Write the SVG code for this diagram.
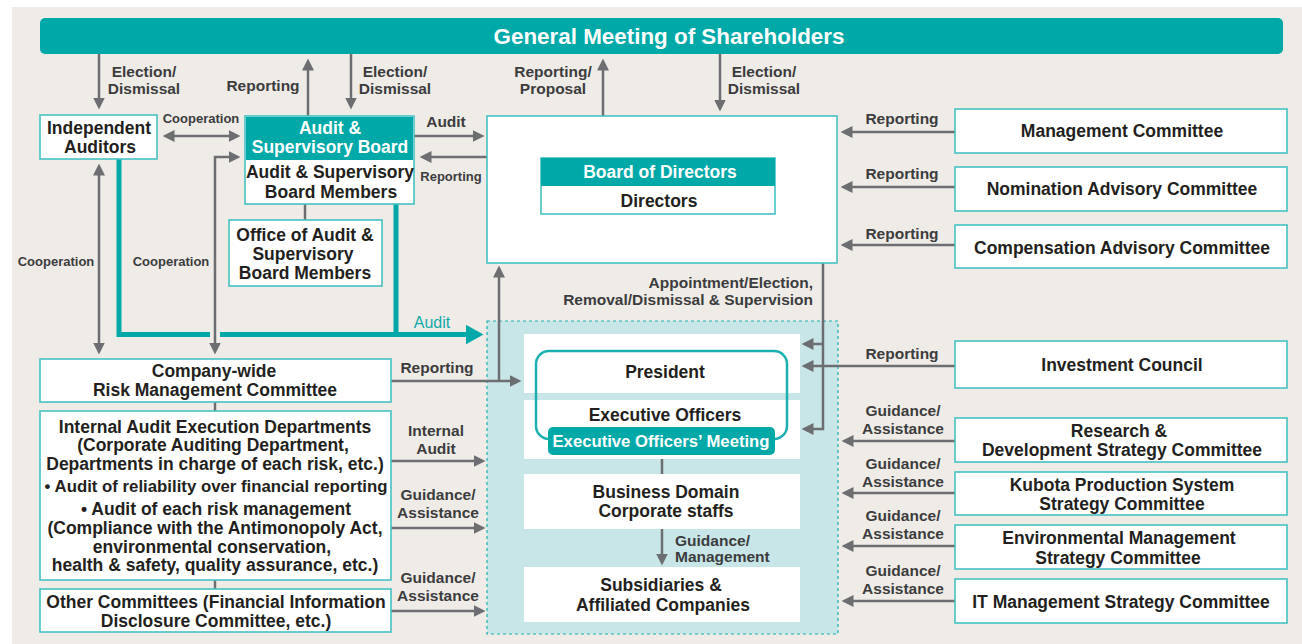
<svg xmlns="http://www.w3.org/2000/svg" width="1302" height="644" viewBox="0 0 1302 644">
<defs>
<style>
text{font-family:"Liberation Sans",Arial,sans-serif;font-weight:bold;dominant-baseline:central;text-anchor:middle}
.n{font-size:17.5px;fill:#231f20}
.w{font-size:17.5px;fill:#ffffff}
.l{font-size:15.5px;fill:#3c3c3e}
.s{font-size:13px;fill:#3c3c3e}
.ta{font-size:16px;fill:#12a9aa;font-weight:normal}
.box{fill:#ffffff;stroke:#45c1c3;stroke-width:1.6}
.wbox{fill:#ffffff}
.hdr{fill:#00a9a8}
.g{fill:none;stroke:#6d6e71;stroke-width:2.5;stroke-linejoin:miter}
.ga{fill:none;stroke:#6d6e71;stroke-width:2.5;marker-end:url(#ah)}
.gb{fill:none;stroke:#6d6e71;stroke-width:2.5;marker-start:url(#ah);marker-end:url(#ah)}
</style>
<marker id="ah" viewBox="0 0 12 12" refX="0.5" refY="6" markerWidth="12" markerHeight="12" markerUnits="userSpaceOnUse" orient="auto-start-reverse">
<path d="M0,0 L12,6 L0,12 z" fill="#6d6e71"/>
</marker>
<marker id="th" viewBox="0 0 18 20" refX="0.5" refY="10" markerWidth="18" markerHeight="20" markerUnits="userSpaceOnUse" orient="auto">
<path d="M0,0 L18,10 L0,20 z" fill="#00a9a8"/>
</marker>
</defs>
<rect x="0" y="0" width="1302" height="644" fill="#ffffff"/>
<rect x="12" y="7" width="1290" height="637" fill="#efece7"/>

<!-- Execution region -->
<g id="execution-region">
<rect x="487" y="321" width="351" height="313" fill="#c8e6e7" stroke="#1aafb0" stroke-width="1.2" stroke-dasharray="3,3"/>
</g>

<g id="connectors">
<path d="M119,159 V334.5 H466" fill="none" stroke="#00a9a8" stroke-width="5" stroke-linejoin="miter" marker-end="url(#th)"/>
<path d="M396,204 V334.5" fill="none" stroke="#00a9a8" stroke-width="5"/>
<rect x="210" y="330" width="10" height="10" fill="#efece7"/>
<path class="ga" d="M99,54 V98"/>
<path class="ga" d="M308,116 V70"/>
<path class="ga" d="M351,54 V98"/>
<path class="ga" d="M603,116 V70"/>
<path class="ga" d="M720,54 V100"/>
<path class="gb" d="M174,136 H229"/>
<path class="gb" d="M229,157 H215 V343"/>
<path class="gb" d="M99,175 V343"/>
<path class="ga" d="M414,136 H473"/>
<path class="ga" d="M487,157 H431"/>
<path class="g" d="M305,204 V220"/>
<path class="ga" d="M955,132 H852"/>
<path class="ga" d="M955,187 H852"/>
<path class="ga" d="M955,245 H852"/>
<path class="ga" d="M823,263 V429 H813"/>
<path class="ga" d="M823,344 H813"/>
<path class="ga" d="M955,366 H813"/>
<path class="ga" d="M955,441 H853"/>
<path class="ga" d="M955,493 H853"/>
<path class="ga" d="M955,546 H853"/>
<path class="ga" d="M955,601 H853"/>
<path class="ga" d="M391,381 H510"/>
<path class="ga" d="M499,381 V277"/>
<path class="ga" d="M391,461 H474"/>
<path class="ga" d="M391,528 H474"/>
<path class="ga" d="M391,611 H474"/>
<path class="g" d="M215,402 V411"/>
<path class="g" d="M215,580 V589"/>
<path class="g" d="M662,459 V474"/>
<path class="ga" d="M662,529 V554"/>
</g>

<g id="connector-labels">
<text class="l" x="144" y="71">Election/</text>
<text class="l" x="144" y="88">Dismissal</text>
<text class="l" x="263" y="85">Reporting</text>
<text class="l" x="395" y="71">Election/</text>
<text class="l" x="395" y="88">Dismissal</text>
<text class="l" x="553" y="71">Reporting/</text>
<text class="l" x="553" y="88">Proposal</text>
<text class="l" x="764" y="71">Election/</text>
<text class="l" x="764" y="88">Dismissal</text>
<text class="s" x="201" y="118">Cooperation</text>
<text class="l" x="446" y="121">Audit</text>
<text class="s" x="451" y="176">Reporting</text>
<text class="s" x="56" y="261">Cooperation</text>
<text class="s" x="171" y="261">Cooperation</text>
<text class="ta" x="432" y="322">Audit</text>
<text class="l" x="902" y="118">Reporting</text>
<text class="l" x="902" y="173">Reporting</text>
<text class="l" x="902" y="233">Reporting</text>
<text class="l" x="813" y="282" style="text-anchor:end">Appointment/Election,</text>
<text class="l" x="813" y="299" style="text-anchor:end">Removal/Dismissal &amp; Supervision</text>
<text class="l" x="437" y="367">Reporting</text>
<text class="l" x="436" y="430">Internal</text>
<text class="l" x="436" y="448">Audit</text>
<text class="l" x="438" y="494">Guidance/</text>
<text class="l" x="438" y="512">Assistance</text>
<text class="l" x="438" y="577">Guidance/</text>
<text class="l" x="438" y="595">Assistance</text>
<text class="l" x="675" y="540" style="text-anchor:start">Guidance/</text>
<text class="l" x="675" y="556" style="text-anchor:start">Management</text>
<text class="l" x="902" y="353">Reporting</text>
<text class="l" x="903" y="410">Guidance/</text>
<text class="l" x="903" y="428">Assistance</text>
<text class="l" x="903" y="463">Guidance/</text>
<text class="l" x="903" y="481">Assistance</text>
<text class="l" x="903" y="515">Guidance/</text>
<text class="l" x="903" y="533">Assistance</text>
<text class="l" x="903" y="570">Guidance/</text>
<text class="l" x="903" y="588">Assistance</text>
</g>

<g id="general-meeting">
<rect x="40" y="18" width="1243" height="36" rx="5" fill="#00a9a8"/>
<text x="669" y="36" style="font-size:22.4px;fill:#ffffff">General Meeting of Shareholders</text>
</g>

<g id="independent-auditors">
<rect class="box" x="40" y="115" width="117" height="44"/>
<text class="n" x="99" y="128">Independent</text>
<text class="n" x="100" y="147">Auditors</text>
</g>

<g id="audit-supervisory-board">
<rect class="box" x="245" y="116" width="169" height="88"/>
<rect class="hdr" x="246" y="117" width="167" height="43"/>
<text class="w" x="330" y="128">Audit &amp;</text>
<text class="w" x="330" y="147">Supervisory Board</text>
<text class="n" x="330" y="172">Audit &amp; Supervisory</text>
<text class="n" x="331" y="192">Board Members</text>
</g>

<g id="office-audit">
<rect class="box" x="229" y="220" width="153" height="66"/>
<text class="n" x="305" y="235">Office of Audit &amp;</text>
<text class="n" x="303" y="254">Supervisory</text>
<text class="n" x="305" y="273">Board Members</text>
</g>

<g id="board-of-directors">
<rect class="box" x="487" y="116" width="350" height="147"/>
<rect class="box" x="541" y="158" width="234" height="56"/>
<rect class="hdr" x="541" y="158" width="234" height="28"/>
<text class="w" x="660" y="172">Board of Directors</text>
<text class="n" x="659" y="201">Directors</text>
</g>

<g id="management-committee">
<rect class="box" x="955" y="109" width="332" height="44"/>
<text class="n" x="1122" y="131">Management Committee</text>
</g>
<g id="nomination-committee">
<rect class="box" x="955" y="167" width="332" height="44"/>
<text class="n" x="1122" y="189">Nomination Advisory Committee</text>
</g>
<g id="compensation-committee">
<rect class="box" x="955" y="225" width="332" height="43"/>
<text class="n" x="1122" y="248">Compensation Advisory Committee</text>
</g>

<g id="risk-committee">
<rect class="box" x="40" y="359" width="351" height="43"/>
<text class="n" x="214" y="371">Company-wide</text>
<text class="n" x="215" y="390">Risk Management Committee</text>
</g>

<g id="internal-audit-departments">
<rect class="box" x="40" y="411" width="351" height="169"/>
<text class="n" x="215" y="427">Internal Audit Execution Departments</text>
<text class="n" x="213" y="445">(Corporate Auditing Department,</text>
<text class="n" x="215" y="464">Departments in charge of each risk, etc.)</text>
<text class="n" x="216" y="486" style="font-size:16.8px">• Audit of reliability over financial reporting</text>
<text class="n" x="216" y="509">• Audit of each risk management</text>
<text class="n" x="215" y="528">(Compliance with the Antimonopoly Act,</text>
<text class="n" x="212" y="547">environmental conservation,</text>
<text class="n" x="215" y="565">health &amp; safety, quality assurance, etc.)</text>
</g>

<g id="other-committees">
<rect class="box" x="40" y="589" width="351" height="43"/>
<text class="n" x="216" y="602">Other Committees (Financial Information</text>
<text class="n" x="216" y="621">Disclosure Committee, etc.)</text>
</g>

<g id="president">
<rect class="wbox" x="524" y="334" width="276" height="59"/>
<text class="n" x="665" y="372">President</text>
</g>
<g id="executive-officers">
<rect class="wbox" x="524" y="400" width="276" height="59"/>
<text class="n" x="665" y="415">Executive Officers</text>
</g>
<g id="executive-meeting">
<rect x="536" y="351" width="251" height="88" rx="13" fill="none" stroke="#1aafb0" stroke-width="2.5"/>
<rect x="548" y="427" width="227" height="28" rx="5" fill="#00a9a8"/>
<text x="661" y="441" style="font-size:16.7px;fill:#ffffff">Executive Officers’ Meeting</text>
</g>
<g id="business-domain">
<rect class="wbox" x="524" y="474" width="276" height="55"/>
<text class="n" x="666" y="492">Business Domain</text>
<text class="n" x="666" y="511">Corporate staffs</text>
</g>
<g id="subsidiaries">
<rect class="wbox" x="524" y="567" width="276" height="55"/>
<text class="n" x="661" y="585">Subsidiaries &amp;</text>
<text class="n" x="663" y="605">Affiliated Companies</text>
</g>

<g id="investment-council">
<rect class="box" x="955" y="341" width="332" height="47"/>
<text class="n" x="1122" y="365">Investment Council</text>
</g>
<g id="rd-committee">
<rect class="box" x="955" y="418" width="332" height="44"/>
<text class="n" x="1119" y="431">Research &amp;</text>
<text class="n" x="1122" y="450">Development Strategy Committee</text>
</g>
<g id="kubota-production-committee">
<rect class="box" x="955" y="472" width="332" height="43"/>
<text class="n" x="1122" y="485">Kubota Production System</text>
<text class="n" x="1122" y="504">Strategy Committee</text>
</g>
<g id="environmental-committee">
<rect class="box" x="955" y="525" width="332" height="44"/>
<text class="n" x="1119" y="538">Environmental Management</text>
<text class="n" x="1118" y="558">Strategy Committee</text>
</g>
<g id="it-committee">
<rect class="box" x="955" y="579" width="332" height="44"/>
<text class="n" x="1121" y="602">IT Management Strategy Committee</text>
</g>
</svg>
